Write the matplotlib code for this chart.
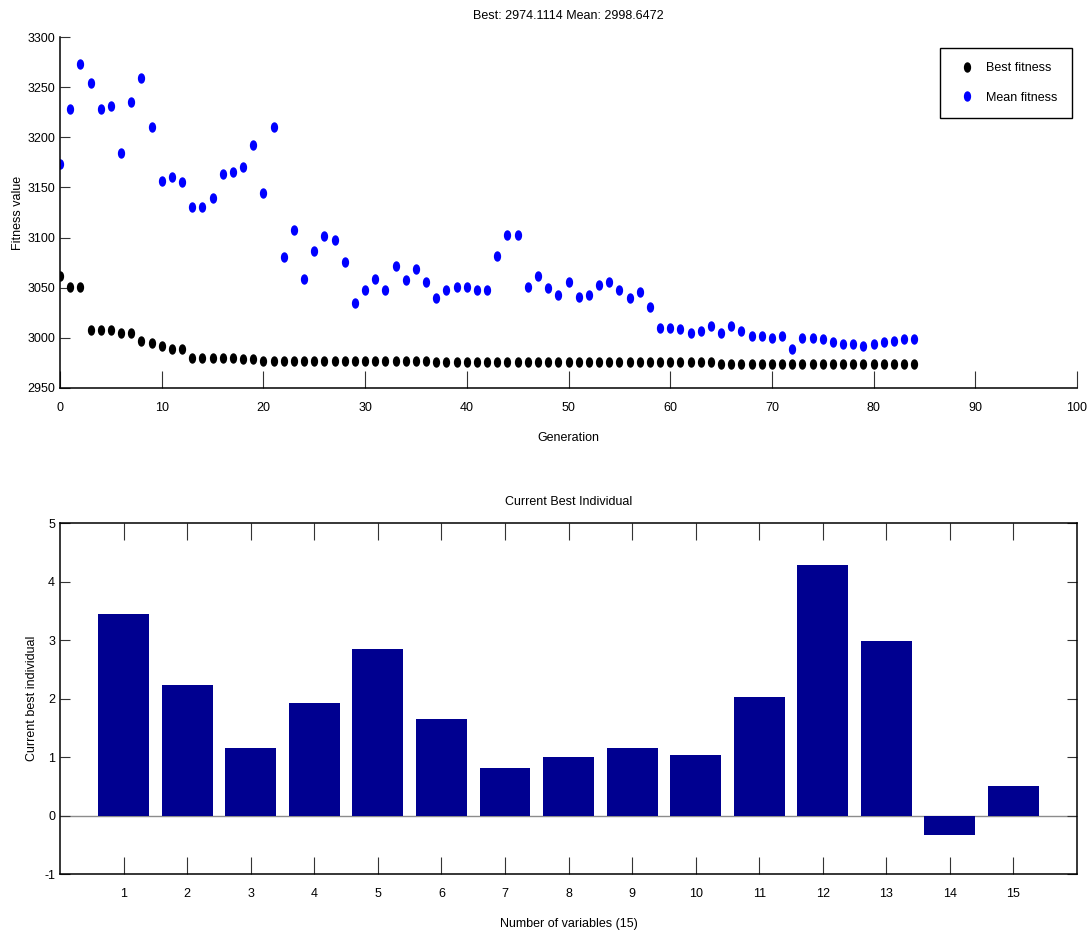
import numpy as np
import matplotlib
matplotlib.use("Agg")
import matplotlib.pyplot as plt
from matplotlib.path import Path
from matplotlib.transforms import Affine2D

plt.rcParams["font.family"] = ["Liberation Sans", "DejaVu Sans"]
plt.rcParams["font.size"] = 9
plt.rcParams["axes.titlesize"] = 9
plt.rcParams["axes.unicode_minus"] = False

# data
best_fitness = [
    3062, 3051, 3051, 3008, 3008, 3008, 3005, 3005, 2997, 2995,
    2992, 2989, 2989, 2980, 2980, 2980, 2980, 2980, 2978.5, 2978.5,
    2977, 2977, 2977, 2977,
    2976.5, 2976.5, 2976.5, 2976.5, 2976.5, 2976.5, 2976.5, 2976.5,
    2976.5, 2976.5, 2976.5, 2976.5, 2976.5,
    2975.5, 2975.5, 2975.5, 2975.5, 2975.5, 2975.5, 2975.5, 2975.5,
    2975.5, 2975.5, 2975.5, 2975.5, 2975.5, 2975.5, 2975.5, 2975.5,
    2975.5, 2975.5, 2975.5, 2975.5, 2975.5, 2975.5, 2975.5, 2975.5,
    2975.5, 2975.5, 2975.5, 2975.5,
    2974.1, 2974.1, 2974.1, 2974.1, 2974.1, 2974.1, 2974.1, 2974.1,
    2974.1, 2974.1, 2974.1, 2974.1, 2974.1, 2974.1, 2974.1, 2974.1,
    2974.1, 2974.1, 2974.1, 2974.1,
]
mean_fitness = [
    3173, 3228, 3273, 3254, 3228, 3231, 3184, 3235, 3259, 3210,
    3156, 3160, 3155, 3130, 3130, 3139, 3163, 3165, 3170, 3192,
    3144, 3210, 3081, 3108, 3059, 3087, 3102, 3098, 3076, 3035,
    3048, 3059, 3048, 3072, 3058, 3069, 3056, 3040, 3048, 3051,
    3051, 3048, 3048, 3082, 3103, 3103, 3051, 3062, 3050, 3043,
    3056, 3041, 3043, 3053, 3056, 3048, 3040, 3046, 3031, 3010,
    3010, 3009, 3005, 3007, 3012, 3005, 3012, 3007, 3002, 3002,
    3000, 3002, 2989, 3000, 3000, 2999, 2996, 2994, 2994, 2992,
    2994, 2996, 2997, 2999, 2998.6,
]
variables = list(range(1, 16))
best_individual = [3.45, 2.24, 1.15, 1.93, 2.85, 1.66, 0.81, 1.01, 1.15, 1.03,
                   2.03, 4.29, 2.99, -0.33, 0.50]

generations = np.arange(len(best_fitness))

# ellipse-shaped dot like the matlab export
dot = Path.unit_circle().transformed(Affine2D().scale(0.65, 1.0))

fig = plt.figure(figsize=(10.89, 9.32), dpi=100)
ax1 = fig.add_axes([0.0551, 0.5837, 0.9339, 0.3766])
ax2 = fig.add_axes([0.0551, 0.0622, 0.9339, 0.3763])

# --- top: fitness per generation
ax1.plot(generations, best_fitness, ls="none", marker=dot, ms=6.5,
         color="black", label="Best fitness")
ax1.plot(generations, mean_fitness, ls="none", marker=dot, ms=6.5,
         color="blue", label="Mean fitness")
ax1.set_xlim(0, 100)
ax1.set_ylim(2950, 3300)
ax1.set_xticks(range(0, 101, 10))
ax1.set_yticks(range(2950, 3301, 50))
for side in ("top", "right"):
    ax1.spines[side].set_visible(False)
for side in ("left", "bottom"):
    ax1.spines[side].set_linewidth(1.1)
ax1.tick_params(axis="x", direction="in", length=12.5, width=0.8,
                color="#333333", pad=10)
ax1.tick_params(axis="y", direction="in", length=7.5, width=0.8,
                color="#333333", pad=3.5)
ax1.set_title("Best: 2974.1114 Mean: 2998.6472", pad=13)
ax1.set_xlabel("Generation")
ax1.xaxis.set_label_coords(0.5, -0.125)
ax1.set_ylabel("Fitness value")
ax1.yaxis.set_label_coords(-0.035, 0.5)
leg = ax1.legend(loc="upper right", bbox_to_anchor=(0.995, 0.969),
                 fancybox=False, framealpha=1, edgecolor="black",
                 borderpad=1.15, labelspacing=1.4, handlelength=2.1,
                 handletextpad=0.45, borderaxespad=0)
leg.get_frame().set_linewidth(1.0)

# --- bottom: current best individual
ax2.bar(variables, best_individual, width=0.8, color="#000090")
ax2.axhline(0, color="0.55", lw=1.0, zorder=0.5)
ax2.set_xlim(0, 16)
ax2.set_ylim(-1, 5)
ax2.set_xticks(variables)
ax2.set_yticks(range(-1, 6))
for side in ax2.spines:
    ax2.spines[side].set_linewidth(1.1)
ax2.tick_params(axis="x", direction="in", length=12.5, width=0.8,
                color="#333333", pad=10, top=True)
ax2.tick_params(axis="y", direction="in", length=7.5, width=0.8,
                color="#333333", pad=3.5, right=True)
ax2.set_title("Current Best Individual", pad=13)
ax2.set_xlabel("Number of variables (15)")
ax2.xaxis.set_label_coords(0.5, -0.125)
ax2.set_ylabel("Current best individual")
ax2.yaxis.set_label_coords(-0.022, 0.5)

fig.savefig("out.png", dpi=100)
